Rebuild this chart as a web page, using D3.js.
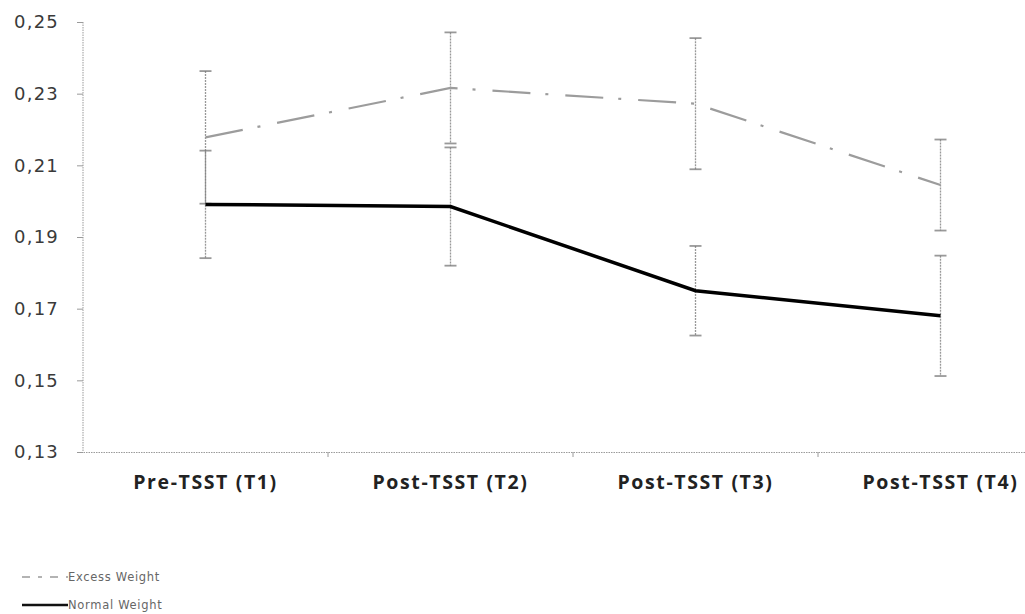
<!DOCTYPE html>
<html><head><meta charset="utf-8">
<script src="https://cdn.jsdelivr.net/npm/d3@7"></script>
<style>body{margin:0;background:#fff}svg{display:block}</style>
</head><body>
<svg id="c" width="1025" height="614"></svg>
<script>
const categories = ["Pre-TSST (T1)", "Post-TSST (T2)", "Post-TSST (T3)", "Post-TSST (T4)"];
const excessValues = [0.2178, 0.2316, 0.2272, 0.2045];
const excessErrors = [0.0185, 0.0155, 0.0183, 0.0127];
const normalValues = [0.1991, 0.1985, 0.175, 0.168];
const normalErrors = [0.015, 0.0165, 0.0125, 0.0168];
const yTicks = [0.13, 0.15, 0.17, 0.19, 0.21, 0.23, 0.25];
const seriesNames = ["Excess Weight", "Normal Weight"];

const svg = d3.select("#c");
const x = d3.scaleBand().domain(categories).range([83, 1063]);
const y = d3.scaleLinear().domain([0.13, 0.25]).range([452, 22]);
const cx = c => x(c) + x.bandwidth() / 2;
const fmt = v => d3.format(".2f")(v).replace(".", ",");

// y axis
const ya = svg.append("g").attr("transform", "translate(83,0)")
  .call(d3.axisLeft(y).tickValues(yTicks).tickFormat(fmt).tickSize(6).tickPadding(18));
ya.select(".domain").attr("stroke", "#9a9a9a").attr("stroke-dasharray", "1.5,1").attr("d", `M0,${y(0.25)}V${y(0.13)}`);
ya.selectAll(".tick line").attr("stroke", "#9a9a9a");
ya.selectAll(".tick text").attr("font-family", "DejaVu Sans").attr("font-size", 18)
  .attr("letter-spacing", "1.2px").attr("fill", "#3a3a3a");

// x axis
const xa = svg.append("g").attr("transform", `translate(0,${y(0.13)})`)
  .call(d3.axisBottom(x).tickSize(0).tickPadding(0));
xa.select(".domain").attr("stroke", "#9a9a9a").attr("stroke-dasharray", "1.5,1");
xa.selectAll(".tick text").remove();
svg.append("g").selectAll("line").data(categories.slice(1)).join("line")
  .attr("x1", d => x(d)).attr("x2", d => x(d))
  .attr("y1", y(0.13)).attr("y2", y(0.13) + 5)
  .attr("stroke", "#9a9a9a");
svg.append("g").selectAll("text").data(categories).join("text")
  .attr("x", cx).attr("y", 489).attr("text-anchor", "middle")
  .attr("font-family", "Open Sans").attr("font-weight", "bold").attr("font-size", 19.5)
  .attr("letter-spacing", "1.6px")
  .attr("fill", "#222").text(d => d);

// error bars
function errorBars(vals, errs) {
  const g = svg.append("g").attr("stroke", "#777").attr("stroke-width", 1.3).attr("stroke-opacity", 0.75);
  categories.forEach((c, i) => {
    const x0 = cx(c), top = y(vals[i] + errs[i]), bot = y(vals[i] - errs[i]);
    g.append("line").attr("x1", x0).attr("x2", x0).attr("y1", top).attr("y2", bot).attr("stroke-dasharray", "2,1");
    g.append("line").attr("x1", x0 - 6).attr("x2", x0 + 6).attr("y1", top).attr("y2", top).attr("stroke-width", 1.8);
    g.append("line").attr("x1", x0 - 6).attr("x2", x0 + 6).attr("y1", bot).attr("y2", bot).attr("stroke-width", 1.8);
  });
}
errorBars(excessValues, excessErrors);
errorBars(normalValues, normalErrors);

const line = d3.line().x((d, i) => cx(categories[i])).y(d => y(d));
svg.append("path").datum(excessValues).attr("d", line).attr("fill", "none")
  .attr("stroke", "#9c9c9c").attr("stroke-width", 2.2).attr("stroke-dasharray", "38,15,3,17");
svg.append("path").datum(normalValues).attr("d", line).attr("fill", "none")
  .attr("stroke", "#000").attr("stroke-width", 3.5);

// legend
const lg = svg.append("g");
lg.append("line").attr("x1", 22).attr("x2", 68).attr("y1", 577).attr("y2", 577)
  .attr("stroke", "#9a9a9a").attr("stroke-width", 1.5).attr("stroke-dasharray", "8,8,4,8");
lg.append("line").attr("x1", 22).attr("x2", 68).attr("y1", 605).attr("y2", 605)
  .attr("stroke", "#111").attr("stroke-width", 2.5);
lg.selectAll("text").data(seriesNames).join("text")
  .attr("x", 68).attr("y", (d, i) => 581 + i * 28)
  .attr("font-family", "DejaVu Sans").attr("font-size", 11.5).attr("letter-spacing", "0.7px")
  .attr("fill", "#666")
  .text(d => d);
</script>
</body></html>
